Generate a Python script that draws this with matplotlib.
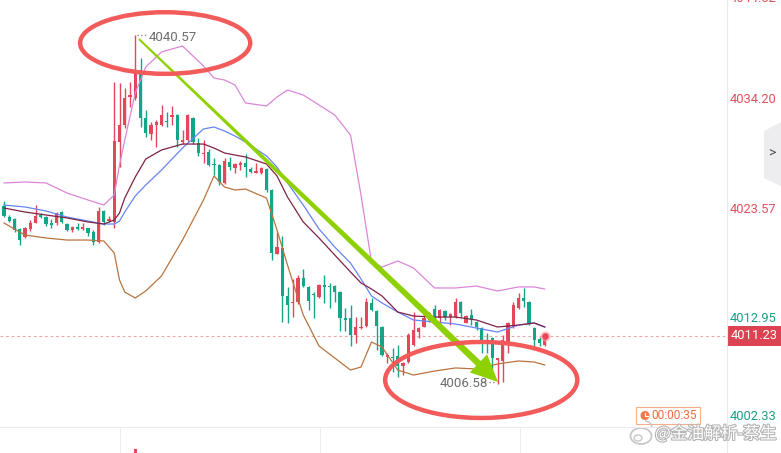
import matplotlib
matplotlib.use("Agg")
import matplotlib.pyplot as plt
import matplotlib.patches as mpatches
import matplotlib.patheffects as pe
from matplotlib.transforms import IdentityTransform
import numpy as np

plt.rcParams['font.family'] = ['Roboto', 'Noto Sans CJK SC', 'DejaVu Sans']

W, H = 781, 453

# ---- candles (1 min bars) ----
opens = [4023.88, 4022.80, 4022.61, 4021.64, 4020.86, 4021.64, 4022.22, 4023.00, 4022.80, 4022.22,
         4022.22, 4023.29, 4022.12, 4021.54, 4021.83, 4021.64, 4021.73, 4021.34, 4020.37, 4023.39,
         4022.41, 4022.32, 4030.11, 4031.77, 4034.49, 4034.39, 4037.12, 4032.45, 4030.89, 4031.77,
         4031.77, 4032.16, 4032.54, 4032.74, 4030.11, 4030.30, 4032.45, 4030.01, 4028.94, 4029.14,
         4027.97, 4027.87, 4026.12, 4028.16, 4027.58, 4027.87, 4028.06, 4027.48, 4027.09, 4027.09,
         4027.48, 4025.43, 4019.20, 4019.78, 4015.11, 4014.43, 4014.53, 4016.86, 4015.99, 4015.30,
         4015.01, 4016.18, 4016.08, 4016.08, 4015.50, 4012.97, 4012.97, 4011.31, 4011.99, 4012.19,
         4014.43, 4013.65, 4012.09, 4009.17, 4009.17, 4009.27, 4008.29, 4008.68, 4010.34, 4011.60,
         4012.09, 4012.77, 4013.84, 4012.97, 4013.65, 4013.06, 4013.06, 4014.53, 4012.48, 4013.26,
         4012.58, 4011.99, 4010.63, 4011.02, 4008.88, 4008.78, 4010.34, 4012.09, 4013.94, 4014.91,
         4014.53, 4011.99, 4010.92, 4010.34]
highs = [4024.36, 4023.00, 4022.71, 4021.73, 4021.83, 4022.51, 4023.97, 4023.19, 4022.90, 4022.61,
         4023.29, 4023.39, 4022.22, 4021.93, 4022.22, 4022.22, 4021.73, 4021.54, 4023.78, 4023.49,
         4022.90, 4035.95, 4035.86, 4035.37, 4035.95, 4040.57, 4038.29, 4033.23, 4032.06, 4032.25,
         4033.71, 4033.03, 4033.62, 4032.84, 4031.28, 4032.84, 4032.54, 4030.50, 4030.30, 4029.43,
         4028.55, 4027.97, 4028.55, 4028.65, 4028.06, 4028.26, 4028.94, 4027.67, 4028.06, 4027.67,
         4027.58, 4025.53, 4021.34, 4020.95, 4015.99, 4016.77, 4017.15, 4017.74, 4016.08, 4015.50,
         4016.28, 4017.15, 4016.38, 4016.18, 4015.60, 4013.94, 4014.23, 4013.06, 4013.06, 4014.91,
         4014.91, 4013.75, 4012.19, 4009.56, 4010.04, 4010.34, 4008.68, 4011.51, 4013.55, 4012.09,
         4013.84, 4013.55, 4014.23, 4013.84, 4013.75, 4013.45, 4014.91, 4014.62, 4013.26, 4013.84,
         4012.67, 4012.09, 4011.51, 4011.12, 4009.07, 4011.31, 4012.58, 4014.53, 4015.40, 4015.89,
         4014.62, 4012.09, 4011.12, 4011.51]
lows = [4022.80, 4022.32, 4021.34, 4020.08, 4020.76, 4021.44, 4022.22, 4022.71, 4021.93, 4021.73,
        4022.03, 4022.22, 4021.44, 4021.34, 4021.54, 4021.54, 4020.95, 4020.08, 4020.27, 4022.03,
        4022.32, 4021.73, 4027.67, 4031.47, 4033.52, 4034.20, 4031.57, 4030.60, 4030.30, 4029.62,
        4031.67, 4031.57, 4031.77, 4029.62, 4029.91, 4030.11, 4029.91, 4028.75, 4028.06, 4027.77,
        4026.90, 4025.92, 4026.02, 4027.38, 4027.09, 4027.38, 4026.70, 4027.09, 4027.09, 4026.99,
        4025.24, 4018.62, 4019.20, 4012.58, 4012.48, 4013.06, 4014.33, 4015.99, 4013.75, 4012.97,
        4014.91, 4014.43, 4013.94, 4014.53, 4011.70, 4011.70, 4010.24, 4010.53, 4011.90, 4012.09,
        4013.65, 4009.85, 4009.27, 4008.58, 4007.71, 4007.22, 4007.41, 4008.58, 4010.24, 4011.02,
        4012.09, 4012.58, 4012.87, 4012.09, 4012.77, 4012.28, 4012.97, 4013.06, 4012.48, 4012.28,
        4011.80, 4009.56, 4009.56, 4007.41, 4006.58, 4006.73, 4009.56, 4011.99, 4013.84, 4014.04,
        4012.28, 4010.14, 4010.24, 4010.24]
closes = [4022.90, 4022.41, 4021.54, 4020.56, 4021.73, 4022.22, 4022.90, 4022.80, 4022.12, 4022.03,
          4023.19, 4022.32, 4021.54, 4021.83, 4021.64, 4021.83, 4021.25, 4020.37, 4023.39, 4022.32,
          4022.61, 4030.21, 4031.77, 4034.39, 4034.69, 4037.02, 4032.45, 4030.99, 4031.77, 4032.06,
          4032.74, 4032.06, 4032.74, 4030.30, 4030.30, 4032.74, 4030.11, 4029.04, 4029.04, 4027.87,
          4027.87, 4026.21, 4028.26, 4027.67, 4027.97, 4028.06, 4027.67, 4027.19, 4027.28, 4027.58,
          4025.43, 4019.30, 4019.88, 4015.11, 4014.23, 4014.53, 4016.86, 4016.08, 4014.62, 4015.21,
          4016.18, 4015.99, 4015.99, 4015.50, 4012.97, 4012.77, 4011.31, 4012.09, 4012.09, 4014.53,
          4013.75, 4012.19, 4009.36, 4009.36, 4009.07, 4008.29, 4008.58, 4011.31, 4011.80, 4011.99,
          4012.97, 4013.45, 4012.97, 4013.75, 4013.06, 4013.36, 4014.53, 4013.45, 4013.16, 4012.77,
          4012.09, 4010.63, 4010.53, 4009.07, 4009.07, 4010.82, 4012.48, 4014.23, 4014.91, 4014.62,
          4012.48, 4010.82, 4010.53, 4011.23]

# ---- indicator lines, read at these bar indices ----
band_idx = [0, 4, 8, 12, 16, 19, 21, 22, 23, 25, 27, 30, 34, 38, 40, 42, 44, 46, 50, 52, 54, 57,
            60, 63, 66, 68, 70, 72, 75, 78, 82, 86, 90, 94, 98, 101, 103]
bb_upper = [4026.12, 4026.21, 4026.12, 4025.14, 4024.46, 4023.97, 4024.95, 4027.87, 4030.30, 4034.88,
            4037.41, 4038.88, 4039.46, 4037.51, 4036.34, 4036.15, 4035.66, 4033.91, 4033.62, 4034.49,
            4035.17, 4034.69, 4033.71, 4032.74, 4030.79, 4024.95, 4018.42, 4017.93, 4018.52, 4017.84,
            4015.89, 4015.89, 4016.08, 4015.60, 4015.99, 4015.99, 4015.79]
bb_mid = [4023.68, 4023.29, 4023.00, 4022.71, 4022.32, 4022.12, 4022.51, 4023.19, 4024.65, 4026.70,
          4028.45, 4029.33, 4029.91, 4029.91, 4029.52, 4029.04, 4028.84, 4028.65, 4027.97, 4026.80,
          4024.75, 4022.32, 4020.76, 4019.10, 4017.45, 4016.38, 4015.79, 4015.11, 4013.55, 4013.16,
          4013.06, 4013.06, 4012.77, 4012.09, 4012.28, 4012.48, 4012.09]
ma_fast = [4023.97, 4023.78, 4023.39, 4022.80, 4022.41, 4022.12, 4022.12, 4022.41, 4023.29, 4024.85,
           4025.92, 4027.38, 4029.52, 4031.38, 4031.57, 4031.18, 4030.69, 4030.11, 4028.75, 4027.67,
           4026.12, 4023.97, 4021.64, 4019.88, 4018.32, 4016.77, 4015.11, 4014.43, 4013.55, 4012.77,
           4012.58, 4012.38, 4011.99, 4011.60, 4012.28, 4012.48, 4012.09]
bb_lower = [4022.22, 4021.05, 4020.76, 4020.56, 4020.56, 4020.47, 4019.30, 4016.67, 4015.50, 4014.91,
            4015.60, 4017.06, 4020.56, 4024.46, 4026.80, 4025.73, 4025.43, 4025.53, 4024.65, 4021.54,
            4018.13, 4013.26, 4010.24, 4009.07, 4007.90, 4008.19, 4010.63, 4010.14, 4007.90, 4007.41,
            4007.80, 4008.10, 4008.00, 4008.49, 4008.78, 4008.68, 4008.39]

last_price = 4011.23
high_idx, high_price = 25, 4040.57
low_idx, low_price = 94, 4006.58
y_ticks = [4044.82, 4034.20, 4023.57, 4012.95, 4002.33]
y_tick_up = [True, True, True, False, False]
time_ticks = [22.1, 60.2, 98.3]
timer_text = "00:00:35"
watermark = "@金油解析-蔡生"

RED = '#e2475a'
GREEN = '#12a587'

# layout in pixels
PLOT_R, PLOT_B = 727, 427
X0, STEP = 4, 5.25
Y_TOP, Y_BOT = 4043.94, 4002.35


def fx(px):
    return px / W


def fy(py):
    return 1 - py / H


fig = plt.figure(figsize=(W / 100, H / 100), dpi=100)
fig.patch.set_facecolor('white')
ax = fig.add_axes([0, fy(PLOT_B), fx(PLOT_R), PLOT_B / H])
ax.set_xlim(-X0 / STEP, (PLOT_R - X0) / STEP)
ax.set_ylim(Y_BOT, Y_TOP)
ax.axis('off')

x = np.arange(len(opens))
o, h, l, c = map(np.array, (opens, highs, lows, closes))
cols = np.where(c >= o, RED, GREEN)
ax.vlines(x, l, h, colors=cols, lw=1, zorder=3)
ax.bar(x, np.maximum(np.abs(c - o), 0.09), bottom=np.minimum(o, c), width=0.66,
       color=cols, linewidth=0, zorder=3)

ax.plot(band_idx, bb_upper, color='#dc86d8', lw=0.9, zorder=4)
ax.plot(band_idx, bb_lower, color='#b9743f', lw=0.9, zorder=4)
ax.plot(band_idx, ma_fast, color='#6684f4', lw=0.9, zorder=4)
ax.plot(band_idx, bb_mid, color='#7f2247', lw=0.9, zorder=4)

# last price line + dot
ax.axhline(last_price, color='#f0a6a6', lw=0.8, ls=(0, (2.5, 2.5)), zorder=2)
ax.scatter([len(opens) - 1], [last_price], s=55, color='#f4a0a8', alpha=0.6, zorder=6, linewidths=0)
ax.scatter([len(opens) - 1], [last_price], s=22, color='#e64656', zorder=7, linewidths=0)

# arrow from the top to the low
p0 = ax.transData.transform((25.7, 4040.14))
p1 = ax.transData.transform((94.1, 4006.73))
u = (p1 - p0) / np.hypot(*(p1 - p0))
n = np.array([-u[1], u[0]])
head_len, head_half = 27, 12.5
base = p1 - u * head_len
pts = [p0 + n * 1.0, base + n * 3.3, base + n * head_half, p1,
       base - n * head_half, base - n * 3.3, p0 - n * 1.0]
ax.add_patch(mpatches.Polygon(pts, closed=True, transform=IdentityTransform(),
                              facecolor='#8fd000', edgecolor='none', zorder=8))

# red circles
for (cx, cy), ew, eh in [((30.7, 4039.75), 32.4, 6.0), ((90.9, 4006.93), 36.6, 7.4)]:
    ax.add_patch(mpatches.Ellipse((cx, cy), ew, eh, fill=False, edgecolor='#f35a5a',
                                  lw=3.2, zorder=9))

# high / low labels
ax.plot([high_idx + 0.25, high_idx + 2.0], [high_price - 0.05] * 2, ls=':', color='#888888',
        lw=1, zorder=10)
ax.annotate(f"{high_price:.2f}", xy=(high_idx, high_price), xytext=(13, -3),
            textcoords='offset pixels', ha='left', va='center', fontsize=9.5,
            color='#6d6d6d', zorder=10)
ax.plot([low_idx - 1.6, low_idx - 0.2], [low_price + 0.15] * 2, ls=':', color='#888888',
        lw=1, zorder=10)
ax.annotate(f"{low_price:.2f}", xy=(low_idx, low_price), xytext=(-9, 0),
            textcoords='offset pixels', ha='right', va='center', fontsize=9.5,
            color='#6d6d6d', zorder=10)

# lower strip (time axis / volume)
ax2 = fig.add_axes([0, 0, fx(PLOT_R), (H - PLOT_B) / H])
ax2.set_xlim(ax.get_xlim())
ax2.set_ylim(0, 1)
ax2.axis('off')
for t in time_ticks:
    ax2.axvline(t, color='#ededf1', lw=0.8)
ax2.bar([high_idx], [0.15], width=0.6, color=RED)

# separators
fig.add_artist(plt.Line2D([0, fx(PLOT_R)], [fy(PLOT_B)] * 2, color='#e9e9ee', lw=0.8))
fig.add_artist(plt.Line2D([fx(PLOT_R)] * 2, [0, 1], color='#e9e9ee', lw=0.8))

# right price scale
for v, up in zip(y_ticks, y_tick_up):
    py = (Y_TOP - v) / (Y_TOP - Y_BOT) * PLOT_B
    py = min(max(py, -2), 417)
    fig.text(fx(730), fy(py), f"{v:.2f}", ha='left', va='center', fontsize=9.3,
             color='#e0505c' if up else '#16a086')

py_last = (Y_TOP - last_price) / (Y_TOP - Y_BOT) * PLOT_B
fig.add_artist(mpatches.Rectangle((fx(727), fy(py_last + 10)), fx(54), 20 / H,
                                  facecolor='#db4352', edgecolor='none'))
fig.text(fx(754), fy(py_last), f"{last_price:.2f}", ha='center', va='center',
         fontsize=9.3, color='white')

# collapse tab
fig.add_artist(mpatches.Polygon([(fx(764), fy(131)), (fx(781), fy(122)), (fx(781), fy(186)),
                                 (fx(764), fy(178))], closed=True, facecolor='#ededf0',
                                edgecolor='none'))
fig.text(fx(772), fy(153), ">", ha='center', va='center', fontsize=10, color='#555560')

# countdown box
fig.add_artist(mpatches.Rectangle((fx(636), fy(424)), fx(64), 17 / H, facecolor='white',
                                  edgecolor='#f6ab8b', lw=0.8))
fig.add_artist(mpatches.Ellipse((fx(645), fy(415.5)), fx(9), 9 / H, facecolor='#f37a48',
                                edgecolor='none'))
fig.add_artist(plt.Line2D([fx(645), fx(645), fx(647.5)], [fy(412.5), fy(415.5), fy(415.5)],
                          color='white', lw=0.8))
fig.text(fx(651), fy(415.5), timer_text, ha='left', va='center', fontsize=8.6, color='#f26c3c')

# watermark
fig.add_artist(mpatches.Ellipse((fx(641), fy(436)), fx(21), 16 / H, facecolor='none',
                                edgecolor='#c8c8c8', lw=1.3))
fig.add_artist(mpatches.Ellipse((fx(638), fy(438)), fx(8), 6 / H, facecolor='none',
                                edgecolor='#c8c8c8', lw=1.0))
fig.add_artist(mpatches.Arc((fx(645), fy(428)), fx(14), 14 / H, theta1=0, theta2=90,
                            edgecolor='#c8c8c8', lw=1.1))
fig.text(fx(655), fy(434), watermark, ha='left', va='center', fontsize=12,
         family=['Noto Sans CJK SC', 'DejaVu Sans'], color='white',
         path_effects=[pe.withStroke(linewidth=1.6, foreground='#b5b5b5')])

fig.savefig('out.png', dpi=100, facecolor='white')
